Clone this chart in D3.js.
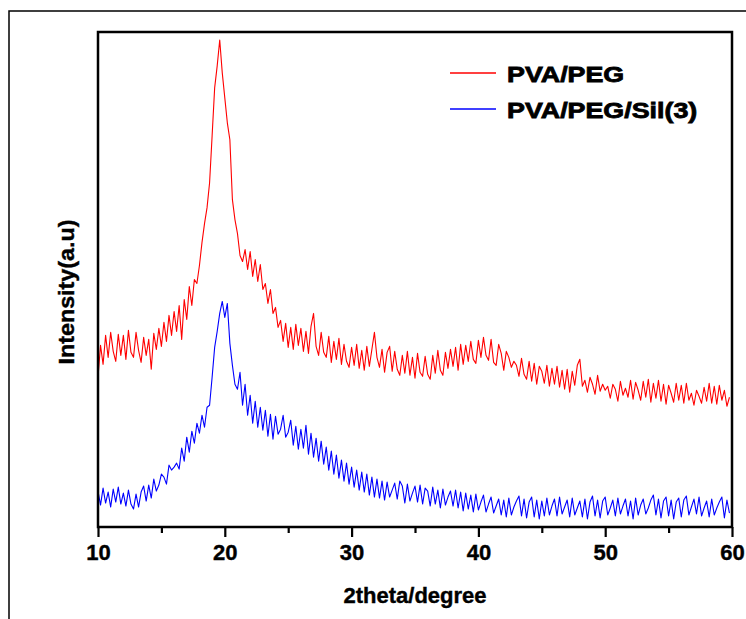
<!DOCTYPE html>
<html>
<head>
<meta charset="utf-8">
<script src="https://cdn.jsdelivr.net/npm/d3@7"></script>
<style>
  body { margin: 0; background: #fff; }
  text { font-family: "Liberation Sans", Arial, sans-serif; font-weight: bold; fill: #000; stroke: #000; stroke-width: 0.4; }
</style>
</head>
<body>
<svg id="chart" width="746" height="619"></svg>
<script>
// 2theta grid, 0.2 degree step
const twoTheta = d3.range(250).map(i => 10 + i * 0.2);

const seriesNames = ['PVA/PEG', 'PVA/PEG/Sil(3)'];
const seriesColors = ['#ff0000', '#0000ff'];

const pvaPeg = [
  150, 182, 163, 192, 170, 195, 176, 166, 193, 172,
  192, 168, 197, 175, 170, 195, 177, 165, 190, 172,
  188, 158, 194, 178, 199, 181, 205, 186, 212, 192,
  216, 196, 222, 188, 228, 208, 241, 222, 248, 244,
  262, 285, 304, 320, 345, 392, 440, 462, 488, 455,
  430, 405, 388, 328, 308, 294, 272, 266, 278, 258,
  276, 251, 268, 246, 263, 238, 244, 224, 238, 214,
  220, 200, 207, 186, 204, 180, 200, 178, 203, 182,
  199, 176, 196, 174, 201, 214, 181, 172, 195, 175,
  170, 191, 165, 186, 168, 189, 163, 183, 166, 160,
  180, 162, 183, 159, 177, 157, 181, 161, 178, 195,
  170, 160, 178, 155, 175, 181, 156, 176, 158, 152,
  172, 154, 176, 152, 170, 149, 174, 155, 151, 171,
  153, 148, 172, 154, 177, 157, 152, 175, 159, 178,
  161, 180, 157, 183, 163, 182, 166, 186, 168, 164,
  187, 170, 190, 172, 167, 188, 165, 162, 183, 174,
  157, 176, 170, 160, 166, 162, 151, 169, 153, 148,
  166, 146, 164, 143, 161, 156, 144, 162, 141, 159,
  143, 161, 140, 157, 138, 158, 135, 156, 142, 162,
  168, 141, 147, 135, 150, 143, 133, 152, 136, 143,
  137, 141, 129, 143, 138, 126, 146, 132, 139, 130,
  147, 128, 145, 137, 127, 146, 130, 148, 125, 144,
  129, 147, 126, 143, 123, 142, 134, 125, 144, 127,
  142, 124, 144, 127, 134, 122, 137, 131, 124, 140,
  126, 144, 124, 141, 123, 142, 127, 137, 121, 130
];

const pvaPegSil = [
  36, 22, 39, 24, 35, 20, 38, 25, 40, 23,
  34, 21, 37, 23, 18, 33, 20, 35, 41, 26,
  42, 29, 48, 36, 42, 53, 50, 43, 62, 57,
  60, 64, 58, 79, 66, 90, 75, 96, 84, 104,
  94, 112, 100, 120, 122, 150, 180, 196, 214, 226,
  210, 224, 184, 162, 143, 138, 155, 122, 143, 112,
  132, 104, 126, 100, 120, 97, 117, 91, 113, 88,
  111, 93, 98, 112, 90, 95, 107, 82, 101, 78,
  98, 79, 102, 73, 94, 70, 89, 66, 86, 63,
  80, 57, 76, 53, 72, 49, 67, 46, 64, 43,
  60, 40, 57, 37, 55, 35, 53, 32, 50, 30,
  48, 29, 46, 27, 45, 30, 37, 44, 28, 46,
  41, 24, 43, 26, 34, 41, 25, 42, 23, 39,
  36, 21, 40, 23, 37, 19, 38, 22, 30, 36,
  21, 37, 19, 35, 16, 34, 18, 32, 15, 33,
  17, 25, 32, 15, 23, 30, 14, 21, 28, 12,
  27, 10, 29, 12, 20, 26, 31, 11, 28, 9,
  25, 30, 10, 27, 8, 26, 11, 29, 12, 21,
  28, 11, 30, 13, 20, 27, 10, 29, 12, 19,
  26, 10, 28, 8, 25, 31, 11, 27, 9, 26,
  30, 12, 19, 27, 11, 29, 13, 21, 28, 11,
  26, 8, 29, 12, 22, 28, 13, 19, 27, 32,
  12, 28, 9, 26, 30, 11, 27, 8, 25, 29,
  10, 27, 31, 12, 20, 28, 13, 30, 11, 19,
  26, 10, 28, 12, 19, 25, 30, 9, 27, 14
];

const majorTicks = [10, 20, 30, 40, 50, 60];
const minorTicks = [15, 25, 35, 45, 55];

const svg = d3.select('#chart');
const plot = { left: 98, right: 732, top: 32, bottom: 527 };

// outer frame
svg.append('rect')
  .attr('x', 9).attr('y', 11)
  .attr('width', 800).attr('height', 700)
  .attr('fill', 'none')
  .attr('stroke', '#000')
  .attr('stroke-width', 1.5);

const x = d3.scaleLinear().domain([10, 60]).range([plot.left, plot.right]);
const y = d3.scaleLinear().domain([0, 496]).range([plot.bottom, plot.top]);

svg.append('defs').append('clipPath')
  .attr('id', 'clip')
  .append('rect')
  .attr('x', plot.left).attr('y', plot.top)
  .attr('width', plot.right - plot.left)
  .attr('height', plot.bottom - plot.top);

const line = d3.line()
  .x((d, i) => x(twoTheta[i]))
  .y(d => y(d));

[pvaPeg, pvaPegSil].forEach((s, k) => {
  svg.append('path')
    .datum(s)
    .attr('clip-path', 'url(#clip)')
    .attr('fill', 'none')
    .attr('stroke', seriesColors[k])
    .attr('stroke-width', 1.1)
    .attr('stroke-linejoin', 'round')
    .attr('d', line);
});

// minor ticks
const xMinor = d3.axisBottom(x).tickValues(minorTicks).tickSize(6).tickFormat('');
svg.append('g')
  .attr('transform', `translate(0,${plot.bottom})`)
  .call(xMinor)
  .call(g => g.select('.domain').remove())
  .call(g => g.selectAll('line').attr('stroke-width', 2.2));

// major ticks with labels
const xAxis = d3.axisBottom(x).tickValues(majorTicks).tickSize(10).tickPadding(7).tickFormat(d3.format('d'));
svg.append('g')
  .attr('transform', `translate(0,${plot.bottom})`)
  .call(xAxis)
  .call(g => g.select('.domain').remove())
  .call(g => g.selectAll('line').attr('stroke-width', 2.2))
  .call(g => g.selectAll('text')
    .attr('font-size', 22)
    .attr('font-family', '"Liberation Sans", Arial, sans-serif')
    .attr('font-weight', 'bold')
    .attr('fill', '#000'));

// plot box
svg.append('rect')
  .attr('x', plot.left).attr('y', plot.top)
  .attr('width', plot.right - plot.left)
  .attr('height', plot.bottom - plot.top)
  .attr('fill', 'none')
  .attr('stroke', '#000')
  .attr('stroke-width', 2.5);

// axis titles
svg.append('text')
  .attr('x', (plot.left + plot.right) / 2)
  .attr('y', 603)
  .attr('text-anchor', 'middle')
  .attr('font-size', 22)
  .text('2theta/degree');

svg.append('text')
  .attr('transform', 'translate(74,292) rotate(-90)')
  .attr('text-anchor', 'middle')
  .attr('font-size', 22)
  .attr('textLength', 145)
  .attr('lengthAdjust', 'spacingAndGlyphs')
  .text('Intensity(a.u)');

// legend
const legendY = [73, 109];
seriesNames.forEach((name, k) => {
  svg.append('line')
    .attr('x1', 450).attr('x2', 496)
    .attr('y1', legendY[k]).attr('y2', legendY[k])
    .attr('stroke', seriesColors[k])
    .attr('stroke-width', 1.5);
  svg.append('text')
    .attr('transform', `translate(507,${legendY[k] + 9}) scale(1.22,1)`)
    .attr('font-size', 22)
    .style('stroke-width', 0.8)
    .text(name);
});
</script>
</body>
</html>
